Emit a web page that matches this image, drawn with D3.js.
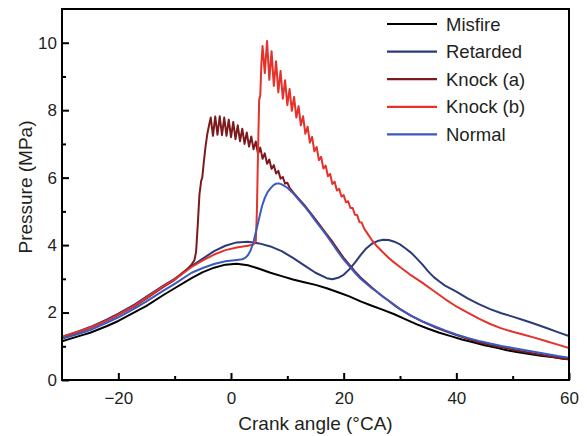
<!DOCTYPE html>
<html><head><meta charset="utf-8">
<script src="https://cdn.jsdelivr.net/npm/d3@7/dist/d3.min.js"></script>
<style>
body{margin:0;background:#fff;}
svg{display:block;font-family:"Liberation Sans",Arial,Helvetica,sans-serif;}
</style></head>
<body><svg id="c" width="587" height="436"></svg>
<script>
// ---- data (crank angle °CA, pressure MPa) ----
const seriesNames = ["Misfire","Retarded","Knock (a)","Knock (b)","Normal"];
const seriesColors = ["#000000","#2c3a78","#7c1a1d","#e5322a","#3a5ac0"];

const misfire = [[-30,1.15],[-27,1.3],[-25,1.4],[-22,1.6],[-20,1.75],[-17,2.02],[-15,2.2],[-12,2.52],[-10,2.72],[-7,3.02],[-5,3.2],[-3,3.33],[-1,3.42],[1,3.45],[3,3.4],[5,3.3],[7,3.18],[9,3.08],[11,2.98],[13,2.9],[15,2.82],[17,2.72],[19,2.6],[21,2.48],[23,2.33],[25,2.2],[27,2.08],[29,1.95],[31,1.8],[33,1.65],[35,1.52],[37,1.4],[39,1.3],[41,1.2],[43,1.12],[45,1.03],[47,0.96],[49,0.88],[51,0.82],[53,0.77],[55,0.72],[57,0.68],[59,0.63],[60,0.62]];

const retarded = [[-30,1.28],[-27,1.45],[-25,1.57],[-22,1.8],[-20,1.97],[-17,2.25],[-15,2.47],[-12,2.8],[-10,3.0],[-7,3.38],[-5,3.6],[-3,3.82],[-1,3.98],[1,4.08],[3,4.1],[5,4.05],[7,3.96],[9,3.82],[11,3.62],[13,3.4],[15,3.18],[17,3.02],[18,2.99],[19,3.03],[20,3.12],[21,3.28],[22,3.48],[23,3.7],[24,3.9],[25,4.04],[26,4.12],[27,4.16],[28,4.15],[29,4.1],[30,4.02],[31,3.9],[32,3.77],[33,3.6],[34,3.42],[35,3.22],[36,3.05],[37,2.92],[38,2.8],[40,2.62],[42,2.42],[44,2.25],[46,2.1],[48,1.98],[50,1.88],[52,1.77],[54,1.66],[56,1.54],[58,1.42],[60,1.3]];

const knockA = [[-30,1.25],[-27,1.42],[-25,1.54],[-22,1.76],[-20,1.93],[-17,2.2],[-15,2.42],[-12,2.76],[-10,2.97],[-8,3.25],[-7,3.42],[-6.5,3.55],[-6.2,3.8],[-5.9,4.6],[-5.6,5.5],[-5.3,5.9],[-5.1,6.0],[-4.8,6.5],[-4.5,6.95],[-4.2,7.3],[-3.9,7.55],
[-3.6,7.78],[-3.2,7.24],[-2.8,7.81],[-2.4,7.27],[-2.0,7.82],[-1.6,7.26],[-1.2,7.78],[-0.8,7.24],[-0.4,7.72],[0,7.2],[0.4,7.65],[0.8,7.14],[1.2,7.55],[1.6,7.08],[2.0,7.45],[2.4,7.0],[2.8,7.34],[3.2,6.92],[3.6,7.22],[4.0,6.84],[4.4,7.07],[4.8,6.7],[5.2,6.89],[5.6,6.56],[6.0,6.72],[6.4,6.41],[6.8,6.54],[7.2,6.26],[7.6,6.37],[8.0,6.12],[8.4,6.2],[8.8,5.97],[9.2,6.02],[9.6,5.82],[10.0,5.85],[10.4,5.7],
[11,5.57],[12,5.38],[13,5.19],[14,4.98],[15,4.76],[16,4.54],[17,4.32],[18,4.1],[19,3.86],[20,3.62],[21,3.42],[22,3.22],[23,3.04],[24,2.89],[25,2.74],[26,2.6],[27,2.47],[28,2.35],[29,2.22],[30,2.1],[32,1.9],[34,1.73],[36,1.58],[38,1.45],[40,1.33],[42,1.22],[44,1.12],[46,1.04],[48,0.97],[50,0.9],[52,0.84],[54,0.78],[56,0.72],[58,0.66],[60,0.61]];

const knockB = [[-30,1.28],[-27,1.44],[-25,1.55],[-22,1.77],[-20,1.94],[-17,2.22],[-15,2.44],[-12,2.78],[-10,2.98],[-7,3.35],[-5,3.55],[-3,3.72],[-1,3.85],[1,3.93],[3,3.98],[4,4.02],[4.4,4.1],[4.6,5.0],[4.8,6.8],[5.0,8.3],[5.2,8.45],[5.4,9.4],
[5.6,9.9],[6.0,9.1],[6.4,10.05],[6.8,8.9],[7.2,9.75],[7.6,8.72],[8.0,9.45],[8.4,8.53],[8.8,9.16],[9.2,8.34],[9.6,8.89],[10.0,8.15],[10.4,8.63],[10.8,7.98],[11.2,8.39],[11.6,7.78],[12.0,8.12],[12.4,7.55],[12.8,7.82],[13.2,7.3],[13.6,7.51],[14.0,7.04],[14.4,7.21],[14.8,6.78],[15.2,6.91],[15.6,6.52],[16.0,6.62],[16.4,6.27],[16.8,6.36],[17.2,6.04],[17.6,6.11],[18.0,5.81],[18.4,5.88],[18.8,5.62],[19.2,5.67],[19.6,5.44],[20.0,5.48],[20.4,5.27],[20.8,5.3],[21.2,5.1],[21.6,5.1],[22.0,4.9],[22.4,4.89],[22.8,4.68],[23.2,4.67],[23.6,4.5],[24,4.4],
[25,4.15],[26,3.95],[27,3.78],[28,3.62],[29,3.48],[30,3.35],[32,3.1],[34,2.88],[36,2.64],[38,2.4],[40,2.18],[42,2.0],[44,1.82],[46,1.66],[48,1.53],[50,1.43],[52,1.34],[54,1.25],[56,1.15],[58,1.05],[60,0.95]];

const normal = [[-30,1.22],[-27,1.37],[-25,1.48],[-22,1.7],[-20,1.86],[-17,2.13],[-15,2.33],[-12,2.65],[-10,2.85],[-7,3.18],[-5,3.32],[-3,3.44],[-1,3.52],[1,3.56],[2,3.58],[2.5,3.62],[3,3.7],[3.5,3.85],[4,4.1],[4.5,4.45],[5,4.8],[5.5,5.15],[6,5.4],[6.5,5.57],[7,5.68],[7.5,5.77],[8,5.82],[8.5,5.83],[9,5.8],[10,5.7],[11,5.54],[12,5.35],[13,5.16],[14,4.95],[15,4.72],[16,4.5],[17,4.28],[18,4.04],[19,3.8],[20,3.57],[21,3.38],[22,3.18],[23,3.0],[24,2.86],[25,2.72],[26,2.6],[27,2.47],[28,2.35],[29,2.22],[30,2.1],[32,1.9],[34,1.74],[36,1.6],[38,1.47],[40,1.35],[42,1.25],[44,1.16],[46,1.08],[48,1.01],[50,0.95],[52,0.89],[54,0.83],[56,0.77],[58,0.71],[60,0.66]];

const seriesData = [misfire, retarded, knockA, knockB, normal];

const xMajorTicks = [-20,0,20,40,60];
const xMinorTicks = [-10,10,30,50];
const yMajorTicks = [0,2,4,6,8,10];
const yMinorTicks = [1,3,5,7,9];

// ---- layout ----
const svg = d3.select("#c");
const L = 62, R = 569, T = 9, B = 380;
const x = d3.scaleLinear().domain([-30,60]).range([L,R]);
const y = d3.scaleLinear().domain([0,11]).range([B,T]);
const textColor = "#231f20";

svg.append("defs").append("clipPath").attr("id","clip")
  .append("rect").attr("x",L).attr("y",T).attr("width",R-L).attr("height",B-T);

const gLines = svg.append("g").attr("clip-path","url(#clip)");
const line = d3.line().x(d=>x(d[0])).y(d=>y(d[1]));
seriesData.forEach((s,i)=>{
  gLines.append("path").datum(s).attr("d",line)
    .attr("fill","none").attr("stroke",seriesColors[i])
    .attr("stroke-width",2).attr("stroke-linejoin","round");
});

// axes
const fmt = d => d < 0 ? "\u2212" + Math.abs(d) : String(d);
const xAx = svg.append("g").attr("transform",`translate(0,${B})`)
  .call(d3.axisBottom(x).tickValues(xMajorTicks).tickSize(-7).tickPadding(12).tickFormat(fmt));
const xAxMinor = svg.append("g").attr("transform",`translate(0,${B})`)
  .call(d3.axisBottom(x).tickValues(xMinorTicks).tickSize(-4).tickFormat(""));
const yAx = svg.append("g").attr("transform",`translate(${L},0)`)
  .call(d3.axisLeft(y).tickValues(yMajorTicks).tickSize(-7).tickPadding(5));
const yAxMinor = svg.append("g").attr("transform",`translate(${L},0)`)
  .call(d3.axisLeft(y).tickValues(yMinorTicks).tickSize(-4).tickFormat(""));
[xAx,xAxMinor,yAx,yAxMinor].forEach(g=>{
  g.select(".domain").remove();
  g.selectAll(".tick line").attr("stroke","#000").attr("stroke-width",2);
  g.selectAll("text").attr("fill",textColor).style("font-size","17px")
   .style("font-family","'Liberation Sans',Arial,sans-serif");
});

// frame
svg.append("rect").attr("x",L).attr("y",T).attr("width",R-L).attr("height",B-T)
  .attr("fill","none").attr("stroke","#000").attr("stroke-width",2);

// axis titles
svg.append("text").attr("x",(L+R)/2).attr("y",430).attr("text-anchor","middle")
  .attr("fill",textColor).style("font-size","19px").text("Crank angle (\u00B0CA)");
svg.append("text").attr("transform","translate(32,187) rotate(-90)").attr("text-anchor","middle")
  .attr("fill",textColor).style("font-size","19px").text("Pressure (MPa)");

// legend
const legend = svg.append("g");
seriesNames.forEach((n,i)=>{
  const yy = 24 + i*27.6;
  legend.append("line").attr("x1",387).attr("x2",437).attr("y1",yy).attr("y2",yy)
    .attr("stroke",seriesColors[i]).attr("stroke-width",2.2);
  legend.append("text").attr("x",446).attr("y",yy).attr("dy","0.36em")
    .attr("fill",textColor).style("font-size","18.5px").text(n);
});
</script></body></html>
